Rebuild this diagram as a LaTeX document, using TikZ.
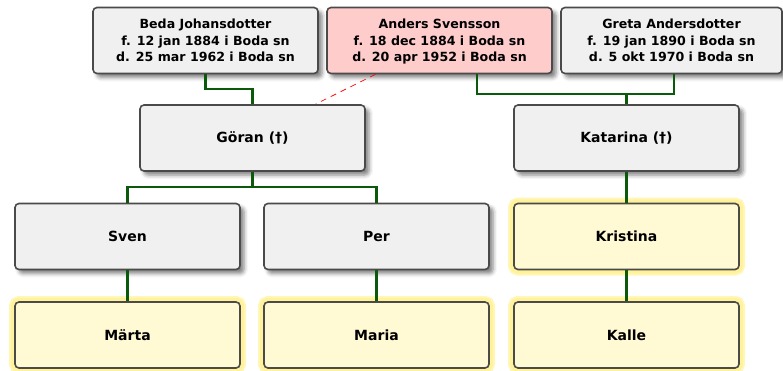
\documentclass[tikz,border=0pt]{standalone}
\usepackage{fontspec}
\setmainfont{DejaVu Sans}
\usetikzlibrary{shadows.blur,calc}
\definecolor{boxgray}{HTML}{F0F0F0}
\definecolor{boxedge}{HTML}{4A4A4A}
\definecolor{pinkfill}{HTML}{FFCCCC}
\definecolor{yelfill}{HTML}{FFF9D4}
\definecolor{glow}{HTML}{FFF29A}
\definecolor{linegreen}{HTML}{0B5A0B}
\newcommand{\topstrut}{\rule{0pt}{14.5pt}}
\tikzset{
  person/.style={draw=boxedge, line width=1.6pt, rounded corners=4pt, fill=boxgray,
    minimum width=225pt, minimum height=66pt, align=center,
    font=\fontsize{14}{16.5}\selectfont\bfseries, text=black},
  info/.style={font=\fontsize{12.6}{16.5}\selectfont\bfseries},
  shad/.style={blur shadow={shadow xshift=4pt, shadow yshift=-4pt, shadow blur radius=4pt, shadow opacity=50}},
  hilite/.style={fill=yelfill, preaction={draw=glow!70, line width=12pt, rounded corners=7pt},
    preaction={draw=glow, line width=8pt, rounded corners=6pt}},
  root/.style={fill=pinkfill},
  link/.style={draw=linegreen, line width=2.4pt},
  spouse/.style={draw=red, line width=0.7pt, dash pattern=on 6pt off 5pt}
}
\begin{document}
\begin{tikzpicture}[x=1pt,y=-1pt]
\useasboundingbox (0,0) rectangle (783,370);
\node[person,info,shad] (beda) at (205.5,40.5) {\topstrut Beda Johansdotter\\f. 12 jan 1884 i Boda sn\\d. 25 mar 1962 i Boda sn\strut};
\node[person,info,shad,root] (anders) at (439.5,40.5) {\topstrut Anders Svensson\\f. 18 dec 1884 i Boda sn\\d. 20 apr 1952 i Boda sn\strut};
\node[person,info,shad,minimum width=221pt] (greta) at (671.5,40.5) {\topstrut Greta Andersdotter\\f. 19 jan 1890 i Boda sn\\d. 5 okt 1970 i Boda sn\strut};
\node[person,shad] (goran) at (252.5,138) {Göran (†)};
\node[person,shad] (katarina) at (626.5,138) {Katarina (†)};
\node[person,shad] (sven) at (127.5,236.5) {Sven};
\node[person,shad] (per) at (376.5,236.5) {Per};
\node[person,hilite] (kristina) at (626.5,236.5) {Kristina};
\node[person,hilite] (marta) at (127.5,335) {Märta};
\node[person,hilite] (maria) at (376.5,335) {Maria};
\node[person,hilite] (kalle) at (626.5,335) {Kalle};
% connectors
\draw[link] (beda.south) |- ($(beda.south)!0.5!(goran.north)$) -| (goran.north);
\coordinate (aj) at ($(anders.south)+(37.5,0)$);
\coordinate (gj) at ($(greta.south)+(2.5,0)$);
\coordinate (kj) at (katarina.north |- 0,94);
\draw[link] (aj) |- (kj) -| (gj);
\draw[link] (katarina.north) -- (kj);
\draw[spouse] ($(anders.south)+(-64,0)$) -- ($(goran.north)+(63,0)$);
\coordinate (gs) at (goran.south |- 0,187);
\draw[link] (goran.south) -- (gs);
\draw[link] (sven.north) |- (gs) -| (per.north);
\draw[link] (katarina.south) -- (kristina.north);
\draw[link] (sven.south) -- (marta.north);
\draw[link] (per.south) -- (maria.north);
\draw[link] (kristina.south) -- (kalle.north);
\end{tikzpicture}
\end{document}
